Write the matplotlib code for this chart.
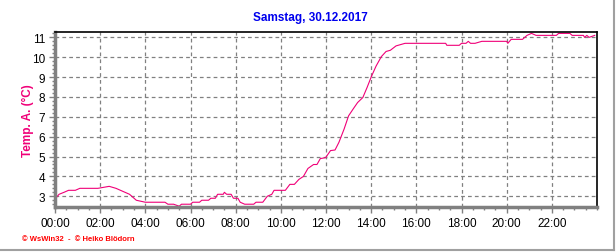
import matplotlib
matplotlib.use("Agg")
import matplotlib.pyplot as plt
from matplotlib.ticker import MultipleLocator, FuncFormatter
from matplotlib.lines import Line2D

# Data (hours since midnight, temperature in °C)
hours = [0.0, 0.18, 0.4, 0.6, 0.9, 1.1, 1.3, 1.9, 2.4, 2.7, 2.9, 3.1, 3.3, 3.5, 3.6,
         4.0, 4.87, 5.0, 5.25, 5.5, 5.6, 6.0, 6.1, 6.4, 6.5, 6.8, 6.9, 7.1, 7.2, 7.45, 7.5,
         7.6, 7.8, 7.9, 8.1, 8.2, 8.4, 8.8, 8.9, 9.2, 9.4, 9.6, 9.7, 10.2, 10.4, 10.6,
         10.8, 11.0, 11.2, 11.45, 11.6, 11.75, 11.98, 12.2, 12.4, 12.57, 12.8, 13.0, 13.2,
         13.4, 13.63, 13.82, 14.01, 14.22, 14.45, 14.66, 14.85, 15.1, 15.5, 17.3, 17.35,
         17.9, 18.0, 18.2, 18.3, 18.4, 18.6, 18.9, 20.0, 20.05, 20.2, 20.7, 20.9, 21.1,
         21.3, 22.2, 22.3, 22.8, 22.9, 23.4, 23.45, 23.55, 23.65, 23.9]
temps = [2.86, 3.1, 3.2, 3.3, 3.3, 3.4, 3.4, 3.4, 3.5, 3.4, 3.3, 3.2, 3.1, 2.9, 2.8,
         2.7, 2.7, 2.6, 2.6, 2.5, 2.6, 2.6, 2.7, 2.7, 2.8, 2.8, 2.9, 2.9, 3.1, 3.1, 3.2,
         3.1, 3.1, 2.9, 2.9, 2.7, 2.6, 2.6, 2.7, 2.7, 3.0, 3.1, 3.3, 3.3, 3.6, 3.6,
         3.85, 4.0, 4.4, 4.6, 4.6, 4.9, 4.94, 5.3, 5.33, 5.71, 6.38, 7.05, 7.39,
         7.72, 7.97, 8.48, 9.03, 9.56, 10.03, 10.29, 10.35, 10.57, 10.7, 10.7, 10.6,
         10.6, 10.7, 10.7, 10.8, 10.7, 10.7, 10.8, 10.8, 10.7, 10.9, 10.9, 11.1, 11.2,
         11.1, 11.1, 11.2, 11.2, 11.1, 11.1, 11.0, 11.1, 11.0, 11.1]

xtick_hours = list(range(0, 24, 2))
title = "Samstag, 30.12.2017"
ylabel = "Temp. A. (°C)"
footer = "© WsWin32  -  © Heiko Blödorn"

plt.rcParams['font.family'] = ['Liberation Sans', 'DejaVu Sans']

fig = plt.figure(figsize=(6.16, 2.53), dpi=100)
fig.patch.set_facecolor('white')
ax = fig.add_axes([55/616, 1 - 208/253, (597-55)/616, (208-33)/253])

pink = '#F00078'
ax.plot(hours, temps, color=pink, lw=0.8)

ax.set_xlim(0, 24)
ax.set_ylim(2.46, 11.27)
ax.set_xticks(xtick_hours)
ax.xaxis.set_major_formatter(FuncFormatter(lambda v, p: f"{int(v):02d}:00"))
ax.xaxis.set_minor_locator(MultipleLocator(0.5))
ax.set_yticks(range(3, 12))
ax.yaxis.set_minor_locator(MultipleLocator(0.2))

ax.grid(True, which='major', color='#808080', linestyle=(0, (3, 2.5)), lw=0.9)
for side in ['left', 'bottom']:
    ax.spines[side].set_color('#808080')
    ax.spines[side].set_linewidth(2.5)
for side in ['top', 'right']:
    ax.spines[side].set_color('black')
    ax.spines[side].set_linewidth(1.2)

ax.tick_params(axis='both', which='major', length=4, width=1, color='#808080',
               labelsize=8.5, labelcolor='black', pad=3)
ax.tick_params(axis='both', which='minor', length=2.5, width=1, color='#808080')

ax.set_ylabel(ylabel, color=pink, fontsize=8.5, fontweight='bold')
ax.yaxis.set_label_coords((34 - 55) / 542, 0.5)

fig.text(310/616, 1 - 18/253, title, color='#0000EE', fontsize=8.5, fontweight='bold',
         ha='center', va='center')
fig.text(22/616, 1 - 240/253, footer, color='#FF0000', fontsize=5.5, fontweight='bold',
         ha='left', va='center')

# grey frame lines at right and bottom
fig.add_artist(Line2D([613.5/616, 613.5/616], [1 - 0/253, 1 - 250.5/253],
                      transform=fig.transFigure, color='#A0A0A0', lw=1.5))
fig.add_artist(Line2D([0, 613.5/616], [1 - 250.5/253, 1 - 250.5/253],
                      transform=fig.transFigure, color='#A0A0A0', lw=1.5))

fig.savefig('out.png', dpi=100)
